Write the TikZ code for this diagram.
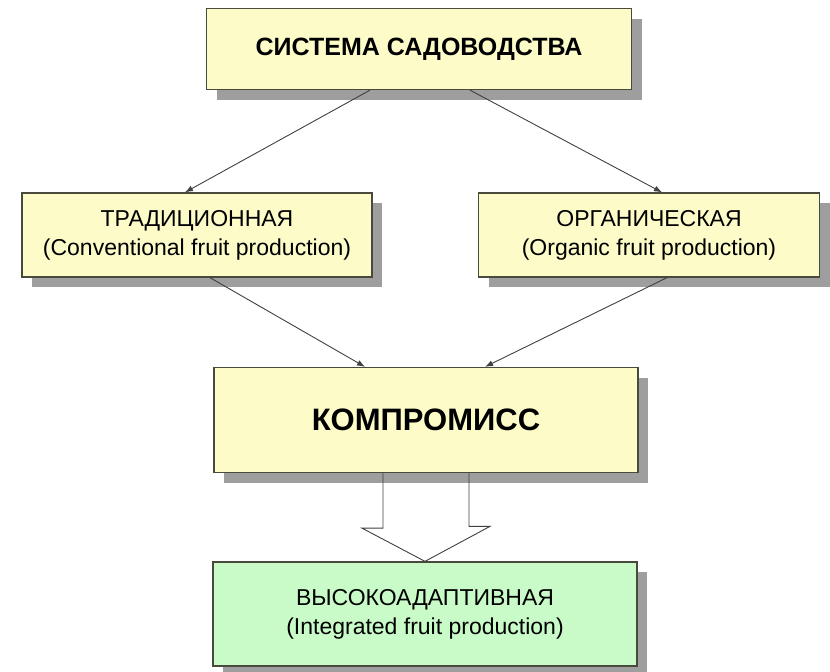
\documentclass[tikz,border=0pt]{standalone}
\usepackage{fontspec}
\setmainfont{Liberation Sans}
\usetikzlibrary{arrows.meta,shadows}

\definecolor{boxyellow}{HTML}{FDFBC8}
\definecolor{boxgreen}{HTML}{C9FBC9}
\definecolor{boxline}{HTML}{4A4A3C}

\begin{document}
\begin{tikzpicture}
  [x=1pt,y=-1pt,
   box/.style={rectangle,draw=boxline,line width=1.3pt,fill=boxyellow,
     align=center,inner sep=0pt,
     drop shadow={shadow xshift=10pt,shadow yshift=-10pt,fill=black!38,opacity=1}},
   midtext/.style={font=\fontsize{23}{29}\selectfont},
   link/.style={draw=black!75,line width=0.9pt,-{Latex[length=8pt,width=6pt]}}]
  \useasboundingbox (0,0) rectangle (830,672);

  \node[box,minimum width=425pt,minimum height=81pt,
        font=\fontsize{25}{30}\bfseries] (sys) at (419,49) {СИСТЕМА САДОВОДСТВА};
  \node[box,midtext,minimum width=350pt,minimum height=84pt] (trad) at (197,235)
    {ТРАДИЦИОННАЯ\\(Conventional fruit production)};
  \node[box,midtext,minimum width=341pt,minimum height=84pt] (org) at (649,235)
    {ОРГАНИЧЕСКАЯ\\(Organic fruit production)};
  \node[box,minimum width=424pt,minimum height=105pt,
        font=\fontsize{31}{36}\bfseries] (komp) at (426,420) {КОМПРОМИСС};
  \node[box,midtext,fill=boxgreen,minimum width=424pt,minimum height=104pt] (integ) at (425,614)
    {ВЫСОКОАДАПТИВНАЯ\\(Integrated fruit production)};

  \foreach \from/\fs/\to/\ts in {sys/-49/trad/-12, sys/51/org/13, trad/13/komp/-61, org/18/komp/59}
    \draw[link] ([xshift=\fs pt]\from.south) -- ([xshift=\ts pt]\to.north);

  % hollow arrow to the result
  \draw[draw=black!75,line width=0.9pt,line join=miter]
    ([xshift=-43pt]komp.south) -- ++(0,55) -- ++(-21,0) -- (integ.north)
    -- ++(65,-35) -- ++(-21,0) -- ([xshift=43pt]komp.south);
\end{tikzpicture}
\end{document}
